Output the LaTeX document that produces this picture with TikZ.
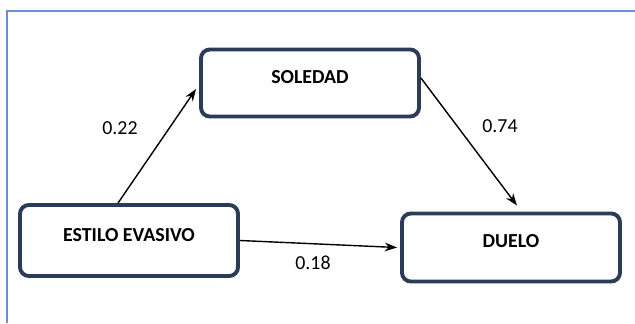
\documentclass[tikz,border=0pt]{standalone}
\usepackage{fontspec}
\setmainfont{Carlito}
\usetikzlibrary{arrows.meta}
\definecolor{boxnavy}{HTML}{2B3B58}
\definecolor{framesky}{HTML}{6A8FD3}

\begin{document}
\begin{tikzpicture}[font=\fontsize{11.3}{13}\selectfont,
    var/.style={draw=boxnavy,line width=2.2pt,rounded corners=5pt,fill=white,
      minimum width=4.36cm,inner sep=0pt},
    path/.style={line width=0.8pt,-{Stealth[length=7pt,width=5pt]}},
    coef/.style={inner sep=1pt}]
    \useasboundingbox (0,0) rectangle (12.7,6.46);
    \draw[framesky,line width=0.6pt] (0.14,0) -- (0.14,6.24) -- (12.7,6.24);

    \node[var,minimum height=1.34cm] (sol) at (6.2,4.8) {};
    \node[font=\fontsize{11.3}{13}\selectfont\bfseries] (soltxt) at (6.2,4.92) {SOLEDAD};
    \node[var,minimum height=1.42cm] (est) at (2.58,1.65) {};
    \node[font=\fontsize{11.3}{13}\selectfont\bfseries] (esttxt) at (2.58,1.76) {ESTILO EVASIVO};
    \node[var,minimum height=1.36cm] (duelo) at (10.22,1.51) {};
    \node[font=\fontsize{11.3}{13}\selectfont\bfseries] (duelotxt) at (10.22,1.64) {DUELO};

    \draw[path] ([xshift=-0.22cm]est.north) -- ([xshift=-0.06cm,yshift=-0.12cm]sol.west);
    \draw[path] ([yshift=0.1cm]sol.east) -- ([xshift=0.12cm,yshift=0.12cm]duelo.north);
    \draw[path] (est.east) -- ([xshift=-0.06cm]duelo.west);

    \node[coef] (b1) at (2.4,3.9) {0.22};
    \node[coef] (b2) at (10.0,3.94) {0.74};
    \node[coef] (b3) at (6.26,1.2) {0.18};
  \end{tikzpicture}
\end{document}
